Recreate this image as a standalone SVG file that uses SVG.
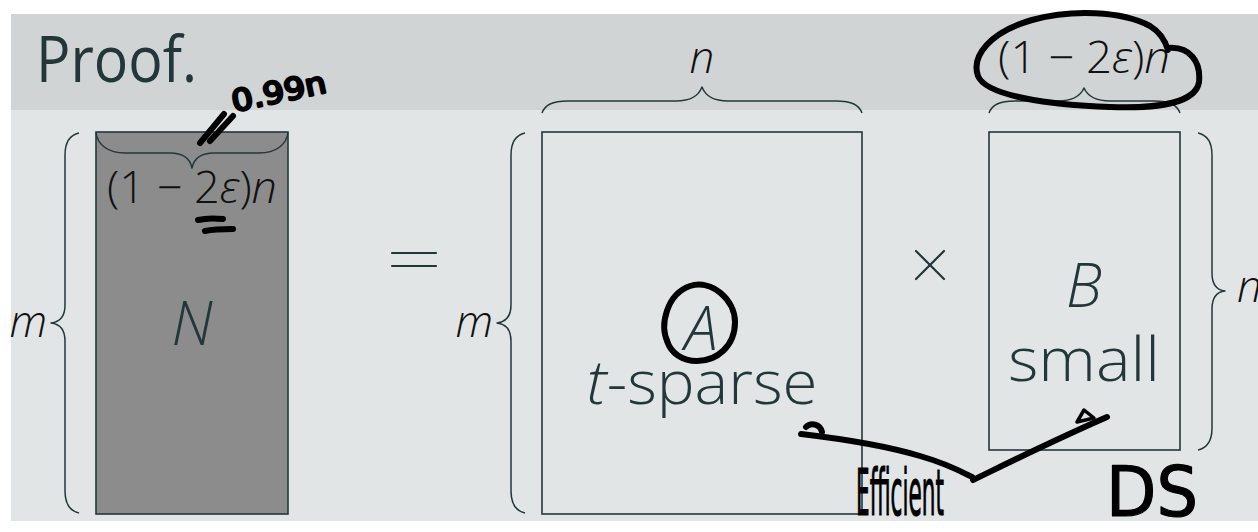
<svg xmlns="http://www.w3.org/2000/svg" width="1258" height="532" viewBox="0 0 1258 532">
  <style>
    .frame { fill: none; stroke: #23373b; stroke-width: 1.6; }
    .brace { fill: none; stroke: #23373b; stroke-width: 1.5; stroke-linejoin: round; }
    .lbl { font-family: "Open Sans", "Noto Sans", sans-serif; font-weight: 300; fill: #111; font-size: 44px; }
    .it { font-style: italic; }
    .big { font-family: "Open Sans", "Noto Sans", sans-serif; font-weight: 300; fill: #23373b; font-size: 60px; text-anchor: middle; }
    .op { fill: none; stroke: #23373b; stroke-width: 2.2; stroke-linecap: round; }
    .ink { fill: none; stroke: #000; stroke-width: 6; stroke-linecap: round; stroke-linejoin: round; }
    .inkt { font-family: "DejaVu Sans", sans-serif; font-weight: normal; fill: #000; stroke: #000; stroke-linejoin: round; }
  </style>

  <!-- slide background -->
  <rect x="11" y="14" width="1247" height="507" fill="#e1e5e6"/>
  <rect x="11" y="14" width="1247" height="96" fill="#d0d4d5"/>
  <text x="36" y="82" font-family="Open Sans, Noto Sans, sans-serif" font-size="64" fill="#23373b" textLength="161" lengthAdjust="spacingAndGlyphs">Proof.</text>

  <!-- matrix N -->
  <g id="matrix-N">
    <rect x="96" y="132" width="192" height="382" fill="#8c8c8c" stroke="#23373b" stroke-width="1.6"/>
    <path class="brace" d="M96,133 C98,145 108,153 125,153 L170,153 C183,153 190,158 192,168 C194,158 201,153 214,153 L259,153 C276,153 286,145 288,133"/>
    <text class="lbl" x="192" y="203" text-anchor="middle" textLength="170" lengthAdjust="spacingAndGlyphs">(1 − 2<tspan class="it">ε</tspan>)<tspan class="it">n</tspan></text>
    <text class="big it" x="192" y="345">N</text>
    <path class="brace" d="M79,133 C70,135 65,142 65,155 L65,305 C65,316 60,322 51,323 C60,324 65,330 65,341 L65,491 C65,504 70,511 79,513"/>
    <text class="lbl it" x="47" y="337" text-anchor="end">m</text>
  </g>

  <!-- equals sign -->
  <g id="equals">
    <line class="op" x1="392" y1="253" x2="436" y2="253"/>
    <line class="op" x1="392" y1="266" x2="436" y2="266"/>
  </g>

  <!-- matrix A -->
  <g id="matrix-A">
    <rect class="frame" x="542" y="132" width="320" height="382"/>
    <path class="brace" d="M542,113 C545,105 552,101 568,101 L676,101 C690,101 698,97 702,87 C706,97 714,101 728,101 L836,101 C852,101 859,105 862,113"/>
    <text class="lbl it" x="702" y="73" text-anchor="middle">n</text>
    <path class="brace" d="M525,133 C516,135 511,142 511,155 L511,305 C511,316 506,322 497,323 C506,324 511,330 511,341 L511,491 C511,504 516,511 525,513"/>
    <text class="lbl it" x="493" y="337" text-anchor="end">m</text>
    <text class="big it" x="701" y="350">A</text>
    <text class="big" x="702" y="404" textLength="231" lengthAdjust="spacingAndGlyphs"><tspan class="it">t</tspan>-sparse</text>
  </g>

  <!-- times sign -->
  <g id="times">
    <line class="op" x1="916" y1="251" x2="944" y2="279"/>
    <line class="op" x1="944" y1="251" x2="916" y2="279"/>
  </g>

  <!-- matrix B -->
  <g id="matrix-B">
    <rect class="frame" x="989" y="132" width="191" height="318"/>
    <path class="brace" d="M989,113 C992,105 999,101 1015,101 L1058,101 C1072,101 1080,97 1084,88 C1088,97 1096,101 1110,101 L1154,101 C1170,101 1177,105 1180,113"/>
    <text class="lbl" x="1084" y="73" text-anchor="middle" textLength="172" lengthAdjust="spacingAndGlyphs">(1 − 2<tspan class="it">ε</tspan>)<tspan class="it">n</tspan></text>
    <path class="brace" d="M1198,133 C1207,135 1212,142 1212,155 L1212,273 C1212,284 1216,290 1225,291 C1216,292 1212,298 1212,309 L1212,428 C1212,441 1207,448 1198,450"/>
    <text class="lbl it" x="1237" y="302">n</text>
    <text class="big it" x="1084" y="307">B</text>
    <text class="big" x="1084" y="381" textLength="152" lengthAdjust="spacingAndGlyphs">small</text>
  </g>

  <!-- pen annotations -->
  <g id="annotations">
    <path class="ink" d="M200,143 L224,114"/>
    <path class="ink" d="M210,141 L233,116"/>
    <text class="inkt" x="234" y="112" font-size="30" stroke-width="2.5" transform="rotate(-12 234 112)" textLength="96" lengthAdjust="spacingAndGlyphs">0.99n</text>
    <path class="ink" d="M198,220 C206,218 214,218 223,219" stroke-width="5"/>
    <path class="ink" d="M205,231 C214,229 224,229 233,229" stroke-width="5"/>
    <path class="ink" d="M1168,48 C1190,46 1201,62 1199,82 C1196,102 1160,109 1110,107 C1050,105 986,96 978,76 C971,56 990,32 1032,20 C1072,9 1122,11 1150,26 C1160,32 1165,40 1168,50" stroke-width="5"/>
    <path class="ink" d="M668,343 C659,325 667,294 690,286 C712,279 735,300 735,322 C735,346 717,361 697,361 C682,361 671,353 667,341" stroke-width="4.5"/>
  </g>

  <!-- connectors -->
  <g id="connectors">
    <path class="ink" d="M806,427 C811,422 820,424 822,432"/>
    <path class="ink" d="M801,434 C835,438 880,444 920,456 C948,464 962,472 972,477" stroke-width="8"/>
    <path class="ink" d="M973,480 C1010,462 1050,442 1107,417" stroke-width="6.5"/>
    <path fill="none" stroke="#000" stroke-width="3.5" stroke-linejoin="round" d="M1077,422 L1084,410 L1094,418 Z"/>
    <text class="inkt" x="856" y="515" font-size="64" stroke-width="1.2" textLength="88" lengthAdjust="spacingAndGlyphs">Efficient</text>
    <text class="inkt" x="1106" y="516" font-size="70" stroke-width="1.2" textLength="92" lengthAdjust="spacingAndGlyphs">DS</text>
  </g>
</svg>
